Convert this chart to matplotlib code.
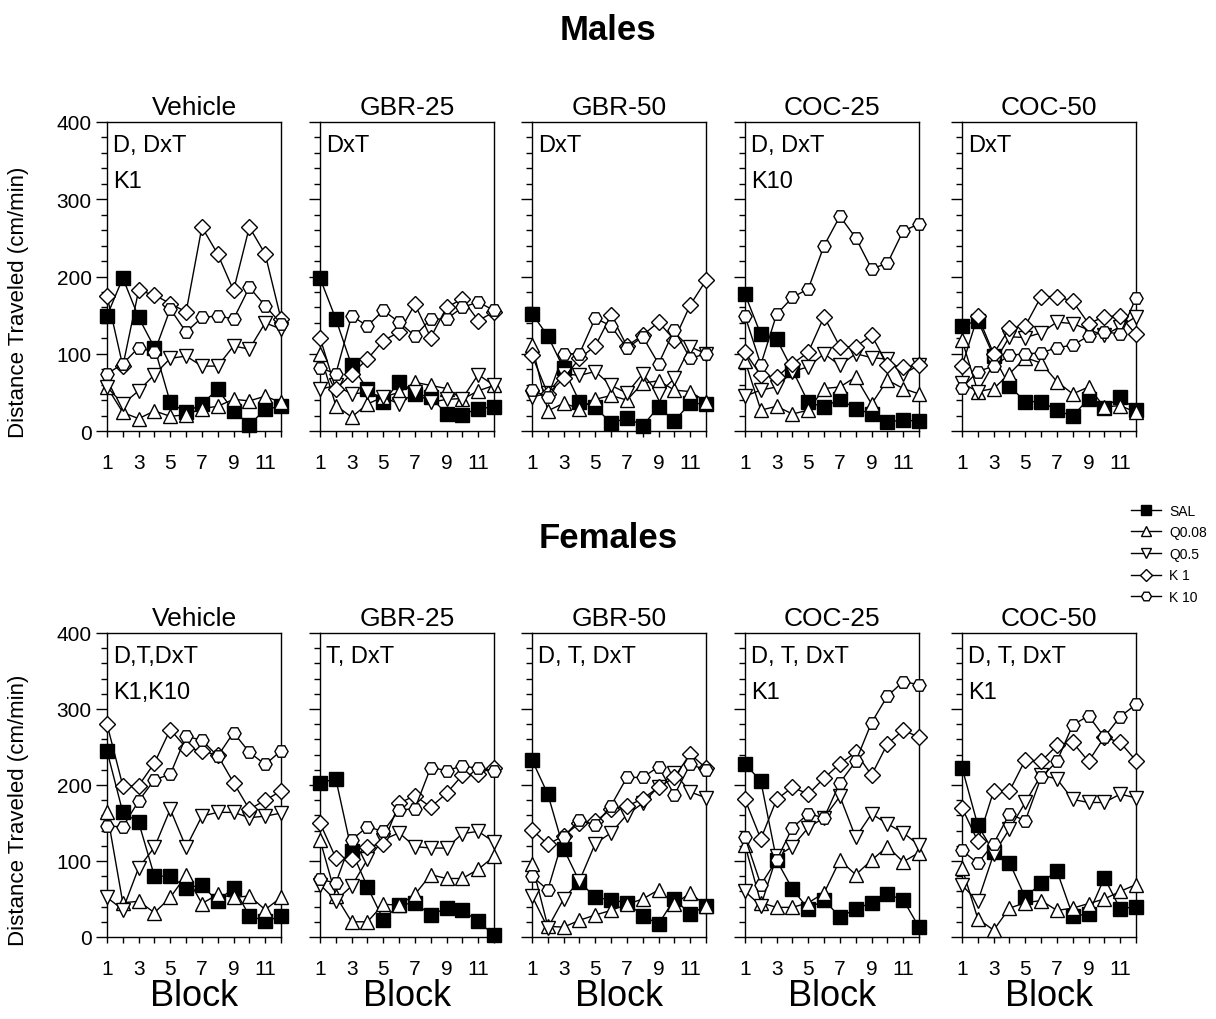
import numpy as np
import matplotlib
matplotlib.use('Agg')
import matplotlib.pyplot as plt
from matplotlib.ticker import MultipleLocator

plt.rcParams['font.family'] = ['Liberation Sans', 'DejaVu Sans']

# ==================== data ====================
blocks = np.arange(1, 13)
series_names = ['SAL', 'Q0.08', 'Q0.5', 'K 1', 'K 10']
panel_titles = ['Vehicle', 'GBR-25', 'GBR-50', 'COC-25', 'COC-50']

# males
m_vehicle = {
    'SAL':   [149, 198, 147, 108, 37, 24, 35, 54, 26, 8, 28, 32],
    'Q0.08': [57, 24, 16, 26, 19, 21, 29, 32, 41, 39, 45, 37],
    'Q0.5':  [57, 35, 52, 73, 94, 97, 84, 84, 110, 106, 140, 132],
    'K 1':   [175, 84, 182, 176, 165, 154, 264, 229, 182, 264, 229, 145],
    'K 10':  [74, 87, 108, 102, 158, 128, 147, 149, 145, 186, 162, 139],
}
m_gbr25 = {
    'SAL':   [198, 145, 85, 54, 37, 64, 48, 44, 22, 21, 29, 31],
    'Q0.08': [100, 33, 18, 35, 44, 50, 63, 59, 55, 41, 52, 59],
    'Q0.5':  [54, 59, 48, 50, 44, 35, 50, 37, 41, 42, 73, 59],
    'K 1':   [121, 54, 74, 93, 117, 128, 164, 121, 160, 171, 143, 154],
    'K 10':  [82, 74, 149, 136, 156, 141, 123, 145, 145, 160, 167, 156],
}
m_gbr50 = {
    'SAL':   [152, 123, 81, 38, 31, 10, 17, 7, 31, 13, 36, 35],
    'Q0.08': [111, 26, 36, 29, 41, 46, 40, 62, 65, 53, 51, 38],
    'Q0.5':  [44, 49, 74, 72, 77, 59, 49, 74, 48, 68, 109, 100],
    'K 1':   [98, 48, 68, 94, 110, 150, 110, 124, 141, 118, 163, 195],
    'K 10':  [53, 44, 100, 100, 146, 136, 107, 122, 87, 131, 94, 100],
}
m_coc25 = {
    'SAL':   [177, 125, 119, 79, 37, 31, 41, 29, 22, 12, 14, 13],
    'Q0.08': [91, 27, 32, 22, 27, 55, 57, 70, 35, 66, 55, 48],
    'Q0.5':  [45, 53, 57, 77, 83, 100, 85, 100, 95, 93, 74, 85],
    'K 1':   [102, 72, 70, 87, 102, 148, 109, 109, 124, 86, 83, 85],
    'K 10':  [149, 86, 151, 173, 184, 240, 278, 250, 210, 217, 259, 268],
}
m_coc50 = {
    'SAL':   [136, 143, 97, 58, 38, 38, 27, 19, 42, 30, 44, 27],
    'Q0.08': [118, 51, 55, 74, 95, 88, 64, 48, 57, 31, 33, 24],
    'Q0.5':  [62, 51, 87, 122, 121, 127, 141, 139, 131, 124, 135, 148],
    'K 1':   [84, 149, 100, 133, 136, 174, 174, 168, 139, 148, 149, 125],
    'K 10':  [56, 77, 84, 98, 100, 101, 108, 111, 123, 128, 126, 172],
}

# females
f_vehicle = {
    'SAL':   [245, 164, 151, 80, 80, 65, 68, 47, 65, 28, 21, 27],
    'Q0.08': [164, 45, 47, 32, 52, 81, 44, 56, 52, 54, 36, 52],
    'Q0.5':  [52, 36, 91, 118, 168, 118, 159, 164, 164, 157, 159, 163],
    'K 1':   [280, 199, 199, 229, 273, 249, 245, 239, 203, 168, 180, 192],
    'K 10':  [146, 145, 179, 207, 214, 264, 259, 238, 269, 243, 227, 245],
}
f_gbr25 = {
    'SAL':   [203, 208, 113, 66, 23, 42, 45, 29, 38, 35, 21, 2],
    'Q0.08': [128, 54, 20, 20, 43, 42, 56, 82, 77, 77, 89, 106],
    'Q0.5':  [69, 48, 67, 102, 128, 137, 119, 117, 117, 136, 139, 125],
    'K 1':   [150, 104, 103, 119, 123, 176, 186, 171, 189, 213, 215, 223],
    'K 10':  [76, 71, 128, 145, 139, 167, 169, 223, 219, 225, 222, 219],
}
f_gbr50 = {
    'SAL':   [233, 188, 116, 73, 52, 49, 45, 28, 17, 50, 30, 41],
    'Q0.08': [96, 14, 13, 22, 29, 35, 43, 50, 62, 43, 58, 41],
    'Q0.5':  [54, 12, 50, 74, 123, 137, 161, 176, 198, 216, 191, 183],
    'K 1':   [141, 122, 133, 150, 152, 168, 172, 182, 197, 210, 241, 222],
    'K 10':  [80, 62, 132, 154, 147, 173, 210, 210, 224, 187, 227, 220],
}
f_coc25 = {
    'SAL':   [228, 205, 101, 63, 37, 49, 26, 37, 45, 56, 49, 13],
    'Q0.08': [121, 45, 39, 39, 45, 58, 101, 82, 101, 119, 99, 111],
    'Q0.5':  [60, 41, 106, 119, 144, 157, 185, 131, 162, 149, 137, 121],
    'K 1':   [181, 129, 181, 197, 188, 209, 228, 243, 213, 254, 272, 263],
    'K 10':  [131, 69, 101, 144, 162, 157, 203, 231, 282, 317, 336, 332],
}
f_coc50 = {
    'SAL':   [223, 147, 112, 98, 52, 71, 87, 28, 30, 78, 37, 40],
    'Q0.08': [91, 24, 9, 38, 45, 48, 35, 38, 44, 50, 60, 69],
    'Q0.5':  [68, 47, 109, 142, 177, 213, 208, 181, 177, 177, 188, 183],
    'K 1':   [170, 126, 192, 192, 233, 231, 252, 256, 231, 263, 256, 232],
    'K 10':  [114, 97, 123, 162, 153, 210, 231, 279, 291, 263, 290, 306],
}

male_panels = [m_vehicle, m_gbr25, m_gbr50, m_coc25, m_coc50]
female_panels = [f_vehicle, f_gbr25, f_gbr50, f_coc25, f_coc50]
male_notes = ['D, DxT\nK1', 'DxT', 'DxT', 'D, DxT\nK10', 'DxT']
female_notes = ['D,T,DxT\nK1,K10', 'T, DxT', 'D, T, DxT', 'D, T, DxT\nK1', 'D, T, DxT\nK1']

# marker styles per series
styles = {
    'SAL':   dict(marker='s', mfc='black'),
    'Q0.08': dict(marker='^', mfc='white'),
    'Q0.5':  dict(marker='v', mfc='white'),
    'K 1':   dict(marker='D', mfc='white', ms=8),
    'K 10':  dict(marker='H', mfc='white'),
}

# ==================== figure ====================
fig = plt.figure(figsize=(12.16, 10.2), dpi=100)
W, H = 1216, 1020
lefts = [107, 320, 532, 745, 962]
pw = 174
rows = [(123, 432), (634, 938)]


def draw_panel(ax, data, note, first, bottom_row, title):
    for name in series_names:
        st = dict(ms=9.5, mec='black', mew=1.0, color='black', lw=1.0)
        st.update(styles[name])
        ax.plot(blocks, data[name], clip_on=False, zorder=3, label=name, **st)
    ax.set_xlim(1, 12)
    ax.set_ylim(0, 400)
    ax.set_xticks(blocks)
    ax.set_xticklabels([str(b) if b % 2 == 1 else '' for b in blocks])
    ax.yaxis.set_major_locator(MultipleLocator(100))
    ax.yaxis.set_minor_locator(MultipleLocator(20))
    ax.tick_params(axis='x', direction='out', length=4, width=1, pad=12, labelsize=15)
    ax.tick_params(axis='y', which='major', direction='out', length=8, width=1, pad=3, labelsize=15)
    ax.tick_params(axis='y', which='minor', direction='out', length=4, width=1)
    if not first:
        ax.set_yticklabels([])
    else:
        ax.set_ylabel('Distance Traveled (cm/min)', fontsize=16)
        ax.yaxis.set_label_coords(-0.45, 0.42)
    for sp in ax.spines.values():
        sp.set_linewidth(1.0)
    ax.set_title(title, fontsize=19, pad=6)
    ax.text(0.035, 0.96, note, transform=ax.transAxes, ha='left', va='top',
            fontsize=17, linespacing=1.8)
    if bottom_row:
        ax.set_xlabel('Block', fontsize=26, labelpad=0)


for r, (panels, notes) in enumerate([(male_panels, male_notes), (female_panels, female_notes)]):
    top, bot = rows[r]
    for i in range(5):
        ax = fig.add_axes([lefts[i] / W, 1 - bot / H, pw / W, (bot - top) / H])
        draw_panel(ax, panels[i], notes[i], i == 0, r == 1, panel_titles[i])
        if r == 0 and i == 0:
            handles, labels = ax.get_legend_handles_labels()

fig.text(608 / W, 1 - 30 / H, 'Males', ha='center', va='center', fontsize=25, fontweight='bold')
fig.text(608 / W, 1 - 538 / H, 'Females', ha='center', va='center', fontsize=25, fontweight='bold')

leg = fig.legend(handles, labels, loc='upper left', bbox_to_anchor=(1118 / W, 1 - 492 / H),
                 frameon=False, fontsize=10, markerscale=0.75, handlelength=2.2,
                 labelspacing=0.55, handletextpad=0.6)

plt.savefig('out.png', dpi=100)
plt.close()
